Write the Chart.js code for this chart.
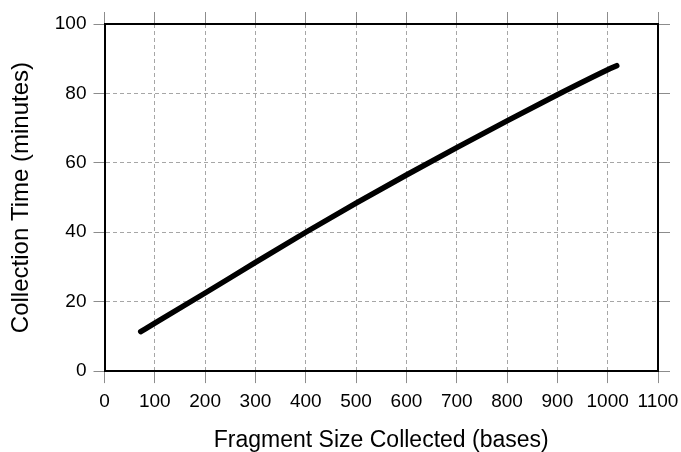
<!DOCTYPE html>
<html lang="en">
    <head>
        <meta charset="UTF-8">
        <title>Collection Time vs Fragment Size</title>
        <script src="https://cdn.jsdelivr.net/npm/chart.js"></script>
        <style>
            html, body { margin: 0; padding: 0; background: #fff; }
            #wrap { width: 681px; height: 452px; }
        </style>
    </head>
    <body>
        <div id="wrap"><canvas id="timeChart" width="681" height="452"></canvas></div>

        <script>
            // fragment size (bases) and collection time (minutes)
            const fragmentSizes = [72, 100, 200, 300, 400, 500, 600, 700, 800, 900, 1000, 1018];
            const collectionTimes = [11.4, 13.8, 22.5, 31.3, 40.0, 48.4, 56.5, 64.4, 72.1, 79.6, 86.8, 88.0];

            const xTicks = { min: 0, max: 1100, step: 100 };
            const yTicks = { min: 0, max: 100, step: 20 };

            const xTitle = 'Fragment Size Collected (bases)';
            const yTitle = 'Collection Time (minutes)';

            const fontFamily = '"Liberation Sans", Arial, Helvetica, sans-serif';
            const gridGray = '#a6a6a6';
            const tickGray = '#8c8c8c';

            const ctx = document.getElementById('timeChart').getContext('2d');

            // mirrored axes on top / right only carry the tick marks and the frame
            const mirrorAxis = (position, range) => ({
                type: 'linear',
                position: position,
                min: range.min,
                max: range.max,
                ticks: { stepSize: range.step, display: false },
                grid: { drawOnChartArea: false, drawTicks: true, tickLength: 12, tickColor: tickGray, tickWidth: 1 },
                border: { display: true, color: '#000', width: 2 }
            });

            new Chart(ctx, {
                type: 'line',
                data: {
                    datasets: [{
                        data: fragmentSizes.map((s, i) => ({ x: s, y: collectionTimes[i] })),
                        borderColor: '#000',
                        borderWidth: 5.5,
                        borderCapStyle: 'round',
                        borderJoinStyle: 'round',
                        pointRadius: 0,
                        fill: false,
                        cubicInterpolationMode: 'monotone'
                    }]
                },
                options: {
                    responsive: false,
                    animation: false,
                    layout: { padding: { top: 12, right: 11, left: 0, bottom: 0 } },
                    plugins: {
                        legend: { display: false },
                        tooltip: { enabled: false }
                    },
                    scales: {
                        x: {
                            type: 'linear',
                            position: 'bottom',
                            min: xTicks.min,
                            max: xTicks.max,
                            // keep the "1100" overhang from pushing the frame inwards
                            afterFit: s => { s.paddingRight = 20; },
                            ticks: {
                                stepSize: xTicks.step,
                                padding: 7,
                                color: '#000',
                                maxRotation: 0,
                                callback: v => String(v),
                                font: { family: fontFamily, size: 19 }
                            },
                            grid: { color: gridGray, lineWidth: 1, tickLength: 12, tickColor: tickGray, tickWidth: 1 },
                            border: { display: true, color: '#000', width: 2, dash: [4, 3] },
                            title: {
                                display: true,
                                text: xTitle,
                                color: '#000',
                                padding: { top: 9.1, bottom: 0 },
                                font: { family: fontFamily, size: 23, lineHeight: 1 }
                            }
                        },
                        y: {
                            type: 'linear',
                            position: 'left',
                            min: yTicks.min,
                            max: yTicks.max,
                            ticks: {
                                stepSize: yTicks.step,
                                padding: 7,
                                color: '#000',
                                callback: v => String(v),
                                font: { family: fontFamily, size: 19 }
                            },
                            grid: { color: gridGray, lineWidth: 1, tickLength: 11, tickColor: tickGray, tickWidth: 1 },
                            border: { display: true, color: '#000', width: 2, dash: [4, 3] },
                            title: {
                                display: true,
                                text: yTitle,
                                color: '#000',
                                padding: { top: 7, bottom: 12 },
                                font: { family: fontFamily, size: 24, lineHeight: 1.2 }
                            }
                        },
                        x2: mirrorAxis('top', xTicks),
                        y2: mirrorAxis('right', yTicks)
                    }
                }
            });
        </script>
    </body>
</html>
